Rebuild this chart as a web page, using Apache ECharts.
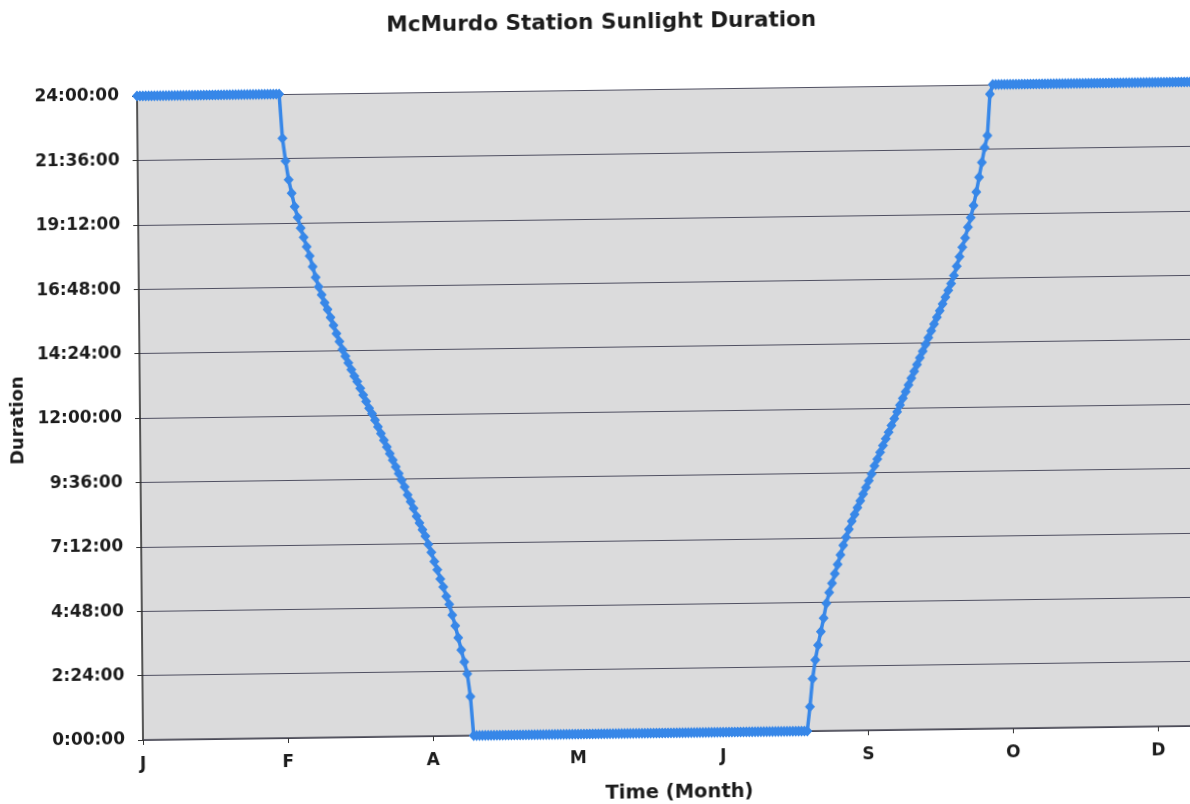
<!DOCTYPE html>
<html>
<head>
<meta charset="utf-8">
<script src="https://cdn.jsdelivr.net/npm/echarts@6/dist/echarts.min.js"></script>
<style>
  html, body { margin: 0; padding: 0; background: #ffffff; overflow: hidden; width: 1190px; height: 804px; }
  #chart {
    width: 1240px; height: 840px;
    /* slight tilt of the printed page */
    transform-origin: 143px 740px;
    transform: matrix(1, -0.0134, 0.0093, 1, 0, 0);
  }
</style>
</head>
<body>
<div id="chart"></div>
<script>
// Daily sunlight duration at McMurdo Station, in hours, one value per day of the year.
const summerStartHours = [
  24,24,24,24,24,24,24,24,24,24,
  24,24,24,24,24,24,24,24,24,24,
  24,24,24,24,24,24,24,24,24,24,
  24,24,24,24,24,24,24,24,24,24,
  24,24,24,24,24,24,24,24,24,24
];
const autumnDeclineHours = [
  22.35,21.5,20.8,20.3,19.8,19.4,19.0,18.65,18.3,17.95,
  17.55,17.15,16.8,16.5,16.2,15.95,15.65,15.35,15.05,14.75,
  14.45,14.2,13.95,13.7,13.45,13.25,13.0,12.75,12.5,12.25,
  12.05,11.8,11.55,11.3,11.05,10.8,10.55,10.3,10.05,9.8,
  9.55,9.3,9.0,8.75,8.5,8.2,7.95,7.7,7.45,7.15,
  6.85,6.5,6.2,5.85,5.55,5.2,4.9,4.5,4.1,3.65,
  3.2,2.75,2.3,1.45
];
const polarNightHours = [
  0,0,0,0,0,0,0,0,0,0,
  0,0,0,0,0,0,0,0,0,0,
  0,0,0,0,0,0,0,0,0,0,
  0,0,0,0,0,0,0,0,0,0,
  0,0,0,0,0,0,0,0,0,0,
  0,0,0,0,0,0,0,0,0,0,
  0,0,0,0,0,0,0,0,0,0,
  0,0,0,0,0,0,0,0,0,0,
  0,0,0,0,0,0,0,0,0,0,
  0,0,0,0,0,0,0,0,0,0,
  0,0,0,0,0,0,0,0,0,0,
  0,0,0,0,0,0
];
const springRiseHours = [
  0.9,1.95,2.65,3.2,3.7,4.2,4.75,5.15,5.5,5.85,
  6.2,6.55,6.9,7.2,7.5,7.8,8.05,8.3,8.55,8.8,
  9.05,9.3,9.55,9.85,10.1,10.35,10.6,10.85,11.1,11.35,
  11.6,11.85,12.1,12.35,12.6,12.85,13.1,13.35,13.6,13.85,
  14.1,14.35,14.6,14.85,15.1,15.35,15.6,15.85,16.1,16.35,
  16.6,16.9,17.25,17.6,17.95,18.3,18.7,19.05,19.5,20.0,
  20.55,21.1,21.65,22.1,23.65
];
const summerEndHours = [
  24,24,24,24,24,24,24,24,24,24,
  24,24,24,24,24,24,24,24,24,24,
  24,24,24,24,24,24,24,24,24,24,
  24,24,24,24,24,24,24,24,24,24,
  24,24,24,24,24,24,24,24,24,24,
  24,24,24,24,24,24,24,24,24,24,
  24,24,24,24,24,24,24,24,24,24
];

// Month initials shown every 50 days along the time axis
const xTickLabels = ['J', 'F', 'A', 'M', 'J', 'S', 'O', 'D'];
const xTickStep = 50;

// Duration ticks (every 2:24:00)
const yTickLabels = ['0:00:00', '2:24:00', '4:48:00', '7:12:00', '9:36:00', '12:00:00',
                     '14:24:00', '16:48:00', '19:12:00', '21:36:00', '24:00:00'];
const yTickStep = 2.4;

const sunlightHours = [].concat(summerStartHours, autumnDeclineHours, polarNightHours,
                                springRiseHours, summerEndHours);
const dayOfYear = sunlightHours.map((_, i) => i + 1);

const FONT = 'DejaVu Sans';
const INK = '#1c1c1c';
const BLUE = '#3787e8';

const chart = echarts.init(document.getElementById('chart'), null, { renderer: 'canvas' });
chart.setOption({
  animation: false,
  backgroundColor: '#ffffff',
  grid: {
    left: 143, top: 96, width: 1056, height: 644,
    show: true, backgroundColor: '#dbdbdc', borderWidth: 0
  },
  graphic: [
    {
      type: 'text', x: 608, y: 29,
      style: {
        text: 'McMurdo Station Sunlight Duration',
        font: 'bold 21.5px "' + FONT + '"', fill: INK,
        textAlign: 'center', textVerticalAlign: 'middle'
      }
    },
    {
      type: 'text', x: 21, y: 419, rotation: Math.PI / 2,
      style: {
        text: 'Duration',
        font: 'bold 18px "' + FONT + '"', fill: INK,
        textAlign: 'center', textVerticalAlign: 'middle'
      }
    },
    {
      type: 'text', x: 679, y: 800,
      style: {
        text: 'Time (Month)',
        font: 'bold 19.5px "' + FONT + '"', fill: INK,
        textAlign: 'center', textVerticalAlign: 'middle'
      }
    }
  ],
  xAxis: {
    type: 'category',
    data: dayOfYear,
    boundaryGap: false,
    axisLine: { show: true, lineStyle: { color: '#444450', width: 1.5 } },
    axisTick: {
      show: true, length: 5, lineStyle: { color: '#333', width: 1 },
      interval: (i) => i % xTickStep === 0
    },
    axisLabel: {
      show: true, margin: 16,
      interval: (i) => i % xTickStep === 0,
      formatter: (v, i) => xTickLabels[Math.round(i / xTickStep)] || '',
      color: INK, fontFamily: FONT, fontWeight: 'bold', fontSize: 17
    },
    splitLine: { show: false }
  },
  yAxis: {
    type: 'value',
    min: 0, max: 24, interval: yTickStep,
    axisLine: { show: true, lineStyle: { color: '#222', width: 1.5 } },
    axisTick: { show: true, length: 5, lineStyle: { color: '#333', width: 1 } },
    axisLabel: {
      margin: 18,
      formatter: (v) => yTickLabels[Math.round(v / yTickStep)],
      color: INK, fontFamily: FONT, fontWeight: 'bold', fontSize: 17
    },
    splitLine: { show: true, lineStyle: { color: '#505062', width: 1 } }
  },
  series: [{
    type: 'line',
    data: sunlightHours,
    symbol: 'diamond',
    symbolSize: [10, 11],
    showAllSymbol: true,
    lineStyle: { color: BLUE, width: 3.5 },
    itemStyle: { color: BLUE },
    clip: false
  }]
});
</script>
</body>
</html>
